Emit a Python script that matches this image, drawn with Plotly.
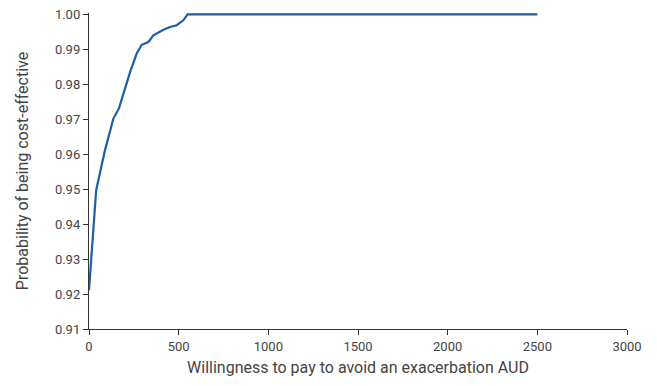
import plotly.graph_objects as go

wtp = [0, 40, 89, 136, 167, 229, 266, 294, 331, 359, 415, 452, 489, 526, 550, 1000, 1500, 2000, 2500]
prob = [0.9211, 0.9497, 0.9611, 0.9702, 0.9731, 0.9835, 0.9888, 0.9913, 0.9921, 0.9940,
        0.9956, 0.9964, 0.9969, 0.9983, 1.0, 1.0, 1.0, 1.0, 1.0]

x_ticks = [0, 500, 1000, 1500, 2000, 2500, 3000]
y_ticks = [0.91, 0.92, 0.93, 0.94, 0.95, 0.96, 0.97, 0.98, 0.99, 1.00]

fig = go.Figure()
fig.add_trace(go.Scatter(x=wtp, y=prob, mode="lines",
                         line=dict(color="#1d5ea8", width=2.2, shape="linear"),
                         showlegend=False, hoverinfo="skip"))

font = dict(family="Roboto, Arial, sans-serif", size=13, color="#444444")
fig.update_layout(
    width=657, height=386,
    margin=dict(l=89, r=30, t=13, b=57),
    paper_bgcolor="white", plot_bgcolor="white",
    font=font,
    xaxis=dict(range=[0, 3000], tickvals=x_ticks, ticktext=[str(v) for v in x_ticks],
               showline=True, linecolor="#333333", linewidth=1.3, ticks="outside",
               ticklen=5, tickcolor="#333333", showgrid=False, zeroline=False,
               automargin=False,
               title=dict(text="Willingness to pay to avoid an exacerbation AUD", standoff=9)),
    yaxis=dict(range=[0.91, 1.0004], tickvals=y_ticks, ticktext=[f"{v:.2f}" for v in y_ticks],
               showline=True, linecolor="#333333", linewidth=1.3, ticks="outside",
               ticklen=5, tickcolor="#333333", showgrid=False, zeroline=False,
               automargin=False,
               title=dict(text="Probability of being cost-effective", standoff=22)),
)
fig.write_html("out.html", config={"displayModeBar": False},
               post_script="document.body.style.margin='0';")
